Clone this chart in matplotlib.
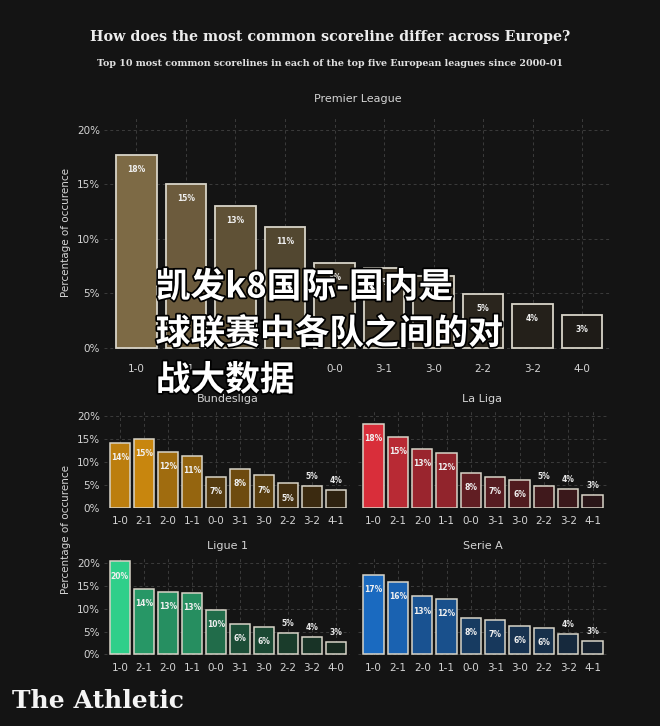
import numpy as np
import matplotlib
matplotlib.use("Agg")
import matplotlib.pyplot as plt
import matplotlib.patheffects as pe
from matplotlib.colors import to_rgb

BG = "#141414"
GRID = "#3c3c3c"
TXT = "#d4d4d4"

# data (percent of matches)
pl_scores = ["1-0", "2-1", "2-0", "1-1", "0-0", "3-1", "3-0", "2-2", "3-2", "4-0"]
pl_values = [17.7, 15.0, 13.0, 11.1, 7.8, 7.3, 6.6, 4.9, 4.0, 3.0]
pl_labels = [18, 15, 13, 11, 8, 7, 7, 5, 4, 3]

bl_scores = ["1-0", "2-1", "2-0", "1-1", "0-0", "3-1", "3-0", "2-2", "3-2", "4-1"]
bl_values = [14.1, 15.0, 12.1, 11.3, 6.6, 8.4, 7.0, 5.25, 4.7, 3.75]
bl_labels = [14, 15, 12, 11, 7, 8, 7, 5, 5, 4]

ll_scores = ["1-0", "2-1", "2-0", "1-1", "0-0", "3-1", "3-0", "2-2", "3-2", "4-1"]
ll_values = [18.3, 15.4, 12.7, 11.9, 7.6, 6.6, 6.1, 4.7, 4.1, 2.7]
ll_labels = [18, 15, 13, 12, 8, 7, 6, 5, 4, 3]

l1_scores = ["1-0", "2-1", "2-0", "1-1", "0-0", "3-1", "3-0", "2-2", "3-2", "4-0"]
l1_values = [20.4, 14.4, 13.6, 13.5, 9.8, 6.6, 6.0, 4.7, 3.8, 2.7]
l1_labels = [20, 14, 13, 13, 10, 6, 6, 5, 4, 3]

sa_scores = ["1-0", "2-1", "2-0", "1-1", "0-0", "3-1", "3-0", "2-2", "3-2", "4-1"]
sa_values = [17.4, 15.9, 12.7, 12.2, 8.0, 7.5, 6.3, 5.8, 4.4, 2.9]
sa_labels = [17, 16, 13, 12, 8, 7, 6, 6, 4, 3]

plt.rcParams["font.family"] = ["DejaVu Sans"]

fig = plt.figure(figsize=(6.6, 7.26), dpi=100, facecolor=BG)


def shade(lo, hi, values):
    lo, hi = np.array(to_rgb(lo)), np.array(to_rgb(hi))
    v = np.array(values)
    t = (v - v.min()) / (v.max() - v.min())
    return [tuple(lo + (hi - lo) * x) for x in t]


def panel(rect, title, scores, values, labels, lo, hi, big=False, yticks=True):
    ax = fig.add_axes(rect, facecolor=BG)
    x = np.arange(len(scores))
    ax.bar(x, values, width=0.82 if big else 0.84, color=shade(lo, hi, values),
           edgecolor="#d8d4c8", linewidth=1.3 if big else 1.1, zorder=3)
    for xi, v, lab in zip(x, values, labels):
        if v < 5 and not big:
            ax.annotate(f"{lab}%", (xi, v), xytext=(0, 7), textcoords="offset points",
                        ha="center", va="center", color="#e8e8e8", fontsize=5.5,
                        fontweight="bold", zorder=4)
        else:
            ax.annotate(f"{lab}%", (xi, v), xytext=(0, -10.5), textcoords="offset points",
                        ha="center", va="center", color="#f0f0f0", fontsize=5.5,
                        fontweight="bold", zorder=4)
    ax.set_xlim(-0.65, 9.6)
    ax.set_ylim(-0.15, 21.2)
    ax.set_yticks([0, 5, 10, 15, 20])
    if yticks:
        ax.set_yticklabels(["0%", "5%", "10%", "15%", "20%"])
    else:
        ax.set_yticklabels([])
    ax.set_xticks(x)
    ax.set_xticklabels(scores)
    ax.tick_params(length=0, colors=TXT, labelsize=7.5)
    ax.tick_params(axis="x", pad=11 if big else 5.5)
    ax.tick_params(axis="y", pad=3)
    for s in ax.spines.values():
        s.set_visible(False)
    ax.grid(True, color=GRID, linestyle=(0, (3, 3)), linewidth=0.7, zorder=0)
    ax.set_title(title, color=TXT, fontsize=8, pad=11 if big else 6)
    return ax


panel([0.158, 0.519, 0.769, 0.320], "Premier League", pl_scores, pl_values, pl_labels,
      "#1e1b17", "#7d6a45", big=True)
panel([0.158, 0.300, 0.373, 0.1347], "Bundesliga", bl_scores, bl_values, bl_labels,
      "#2e2210", "#c8860e")
panel([0.542, 0.300, 0.378, 0.1347], "La Liga", ll_scores, ll_values, ll_labels,
      "#2a1618", "#d92e3a", yticks=False)
panel([0.158, 0.0978, 0.373, 0.1339], "Ligue 1", l1_scores, l1_values, l1_labels,
      "#17291f", "#2fcf8a")
panel([0.542, 0.0978, 0.378, 0.1339], "Serie A", sa_scores, sa_values, sa_labels,
      "#16212e", "#1a6ac0", yticks=False)

fig.text(0.1, 0.68, "Percentage of occurence", rotation=90, ha="center", va="center",
         color=TXT, fontsize=7.5)
fig.text(0.1, 0.27, "Percentage of occurence", rotation=90, ha="center", va="center",
         color=TXT, fontsize=7.5)

fig.text(0.5, 0.949, "How does the most common scoreline differ across Europe?",
         ha="center", va="center", color="#ececec", fontsize=10.3,
         fontweight="bold", family="DejaVu Serif")
fig.text(0.5, 0.913, "Top 10 most common scorelines in each of the top five European leagues since 2000-01",
         ha="center", va="center", color="#e0e0e0", fontsize=6.8,
         fontweight="bold", family="DejaVu Serif")

fig.text(0.018, 0.035, "The Athletic", ha="left", va="center", color="#f4f4f4",
         fontsize=18, fontweight="bold", family="DejaVu Serif")

# overlaid caption
wm = ["凯发k8国际-国内是", "球联赛中各队之间的对", "战大数据"]
for i, line in enumerate(wm):
    t = fig.text(0.236, 1 - (287 + i * 46.5) / 726, line, ha="left", va="center",
                 color="white", fontsize=25, fontweight="heavy",
                 family=["Noto Sans CJK SC", "DejaVu Sans"], zorder=10)
    t.set_path_effects([pe.withStroke(linewidth=2.5, foreground="black")])

fig.savefig("out.png", dpi=100, facecolor=BG)
